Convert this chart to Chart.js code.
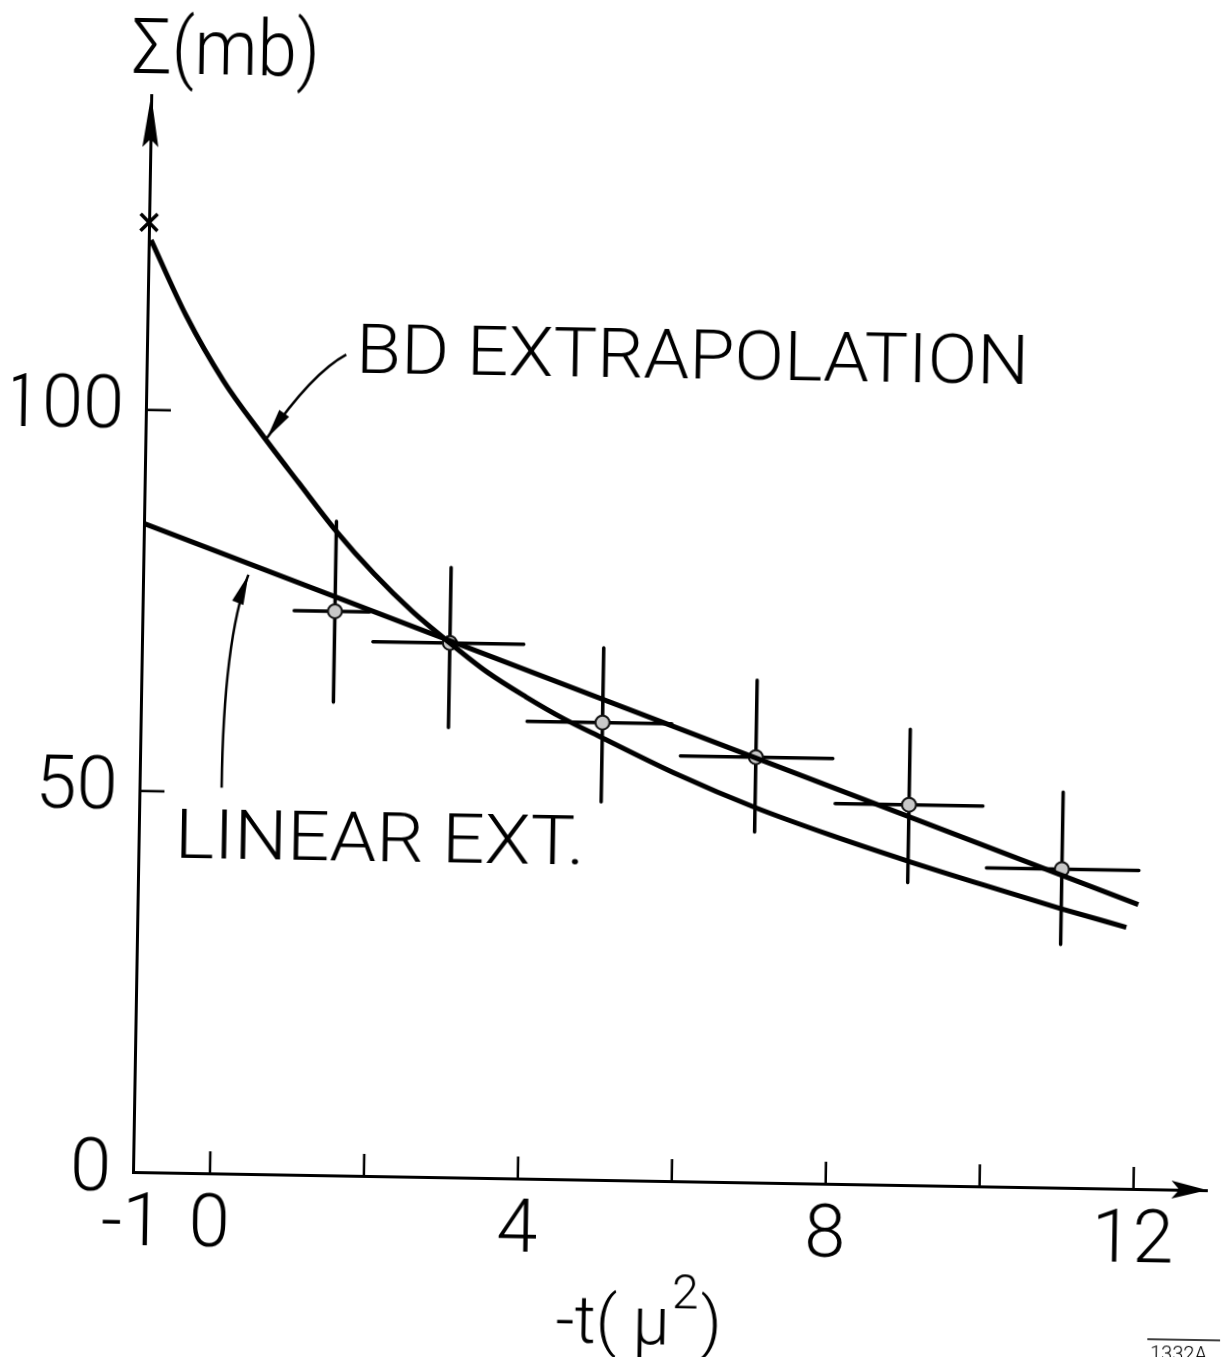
<!DOCTYPE html>
<html>
<head>
<meta charset="utf-8">
<script src="https://cdn.jsdelivr.net/npm/chart.js@4.4.1/dist/chart.umd.min.js"></script>
<style>
  html, body { margin: 0; padding: 0; background: #fff; overflow: hidden; }
  #wrap {
    position: absolute; left: 0; top: 0; width: 1223px; height: 1357px;
    transform: rotate(0.97deg); transform-origin: 133px 1172px;
  }
</style>
</head>
<body>
<div id="wrap"><canvas id="chart" width="1223" height="1357"></canvas></div>
<script>
// BD extrapolation curve
const bdX = [-0.97, -0.5, 0, 0.5, 1, 1.5, 2, 2.5, 3, 3.5, 4, 4.5, 5, 6, 7, 8, 9, 10, 11, 11.85];
const bdY = [122.3, 112.5, 104, 97.2, 90.8, 84.5, 79, 74.2, 70.1, 66.3, 63.2, 60.4, 58, 53.3, 49.2, 45.7, 42.5, 39.5, 36.6, 34.3];

// linear extrapolation
const linX = [-1, 12];
const linY = [85.1, 37.3];

// measured points with error bars
const ptX = [1.5, 3, 5, 7, 9, 11];
const ptY = [74, 70.1, 60, 55.8, 49.9, 41.8];
const errLo = [62.1, 59, 49.6, 46, 39.7, 31.9];
const errHi = [85.8, 80, 69.8, 65.9, 59.8, 51.9];
const binLo = [0.97, 2, 4.02, 6.02, 8.04, 10.02];
const binHi = [1.95, 3.96, 5.9, 8, 9.96, 12];

// extrapolated value at t = -1
const xMarkX = [-1];
const xMarkY = [124.6];

// axes
const xTickLabels = [-1, 0, 4, 8, 12];
const xTickMarks = [0, 2, 4, 6, 8, 10, 12];
const yTickLabels = [0, 50, 100];
const yTickMarks = [50, 100];

const FONT = 'Roboto, "DejaVu Sans", sans-serif';

const toPts = (xs, ys) => xs.map((x, i) => ({ x: x, y: ys[i] }));

function fitText(ctx, text, x, y, size, width) {
    ctx.save();
    ctx.font = `300 ${size}px ${FONT}`;
    const w = ctx.measureText(text).width;
    ctx.translate(x, y);
    if (width) ctx.scale(width / w, 1);
    ctx.fillText(text, 0, 0);
    ctx.restore();
}

function curvedArrow(ctx, xs, ys, p0, c, p1) {
    const a = { x: xs.getPixelForValue(p0[0]), y: ys.getPixelForValue(p0[1]) };
    const m = { x: xs.getPixelForValue(c[0]), y: ys.getPixelForValue(c[1]) };
    const b = { x: xs.getPixelForValue(p1[0]), y: ys.getPixelForValue(p1[1]) };
    ctx.beginPath();
    ctx.moveTo(a.x, a.y);
    ctx.quadraticCurveTo(m.x, m.y, b.x, b.y);
    ctx.stroke();
    const ang = Math.atan2(b.y - m.y, b.x - m.x);
    const len = 30, half = 6;
    ctx.beginPath();
    ctx.moveTo(b.x, b.y);
    ctx.lineTo(b.x - len * Math.cos(ang) + half * Math.sin(ang), b.y - len * Math.sin(ang) - half * Math.cos(ang));
    ctx.lineTo(b.x - len * Math.cos(ang) - half * Math.sin(ang), b.y - len * Math.sin(ang) + half * Math.cos(ang));
    ctx.closePath();
    ctx.fill();
}

const errorBars = {
    id: 'errorBars',
    beforeDatasetsDraw(chart) {
        const { ctx, scales: { x, y } } = chart;
        ctx.save();
        ctx.strokeStyle = '#000';
        ctx.lineWidth = 3.5;
        ctx.lineCap = 'round';
        ptX.forEach((px, i) => {
            ctx.beginPath();
            ctx.moveTo(x.getPixelForValue(px), y.getPixelForValue(errLo[i]));
            ctx.lineTo(x.getPixelForValue(px), y.getPixelForValue(errHi[i]));
            ctx.moveTo(x.getPixelForValue(binLo[i]), y.getPixelForValue(ptY[i]));
            ctx.lineTo(x.getPixelForValue(binHi[i]), y.getPixelForValue(ptY[i]));
            ctx.stroke();
        });
        ctx.restore();
    }
};

const decorations = {
    id: 'decorations',
    afterDraw(chart) {
        const { ctx, chartArea: area, scales: { x, y } } = chart;
        ctx.save();
        ctx.strokeStyle = '#000';
        ctx.fillStyle = '#000';

        // inward tick marks
        ctx.lineWidth = 2.5;
        yTickMarks.forEach(v => {
            const py = y.getPixelForValue(v);
            ctx.beginPath();
            ctx.moveTo(area.left, py);
            ctx.lineTo(area.left + 25, py);
            ctx.stroke();
        });
        xTickMarks.forEach(v => {
            const px = x.getPixelForValue(v);
            ctx.beginPath();
            ctx.moveTo(px, area.bottom);
            ctx.lineTo(px, area.bottom - 22);
            ctx.stroke();
        });

        // axis arrowheads
        ctx.beginPath();
        ctx.moveTo(area.left, area.top);
        ctx.lineTo(area.left - 8, area.top + 52);
        ctx.lineTo(area.left, area.top + 44);
        ctx.lineTo(area.left + 8, area.top + 52);
        ctx.closePath();
        ctx.fill();
        ctx.beginPath();
        ctx.moveTo(area.right, area.bottom);
        ctx.lineTo(area.right - 36, area.bottom - 9);
        ctx.lineTo(area.right - 28, area.bottom);
        ctx.lineTo(area.right - 36, area.bottom + 9);
        ctx.closePath();
        ctx.fill();

        // axis titles
        ctx.textBaseline = 'alphabetic';
        fitText(ctx, '\u03a3(mb)', area.left - 20, 73, 77, 188);
        const tx = 558, ty = area.bottom + 163;
        ctx.font = `300 66px ${FONT}`;
        ctx.fillText('-t( \u03bc', tx, ty);
        let w = ctx.measureText('-t( \u03bc').width;
        ctx.font = `300 48px ${FONT}`;
        ctx.fillText('2', tx + w + 2, ty - 36);
        w += ctx.measureText('2').width + 4;
        ctx.font = `300 66px ${FONT}`;
        ctx.fillText(')', tx + w, ty);

        // curve labels
        fitText(ctx, 'BD EXTRAPOLATION', x.getPixelForValue(1.72), y.getPixelForValue(105.4), 69, 673);
        fitText(ctx, 'LINEAR EXT.', x.getPixelForValue(-0.53), y.getPixelForValue(41.3), 69, 410);

        // arrows pointing at the curves
        ctx.lineWidth = 2.5;
        curvedArrow(ctx, x, y, [1.59, 107.7], [1.155, 105.25], [0.58, 96.6]);
        curvedArrow(ctx, x, y, [0.067, 50.6], [0.06, 70], [0.368, 78.6]);

        // figure number
        ctx.lineWidth = 1.5;
        ctx.beginPath();
        ctx.moveTo(1150, 1322);
        ctx.lineTo(1225, 1322);
        ctx.stroke();
        ctx.font = `300 20px ${FONT}`;
        ctx.fillText('1332A', 1153, 1343);
        ctx.restore();
    }
};

const ctx = document.getElementById('chart').getContext('2d');
new Chart(ctx, {
    type: 'scatter',
    data: {
        datasets: [
            {
                label: 'BD extrapolation',
                data: toPts(bdX, bdY),
                showLine: true,
                borderColor: '#000',
                borderWidth: 5,
                pointRadius: 0,
                cubicInterpolationMode: 'monotone',
                clip: false
            },
            {
                label: 'Linear ext.',
                data: toPts(linX, linY),
                showLine: true,
                borderColor: '#000',
                borderWidth: 5,
                pointRadius: 0,
                clip: false
            },
            {
                label: 'Data',
                data: toPts(ptX, ptY),
                pointRadius: 7,
                pointBackgroundColor: '#c8c8c8',
                pointBorderColor: '#111',
                pointBorderWidth: 2,
                clip: false
            },
            {
                label: 'Extrapolated',
                data: toPts(xMarkX, xMarkY),
                pointStyle: 'crossRot',
                pointRadius: 12,
                pointBorderColor: '#000',
                pointBorderWidth: 3.5,
                clip: false
            }
        ]
    },
    options: {
        responsive: false,
        animation: false,
        layout: { padding: { top: 95, right: 13, bottom: 0, left: 0 } },
        plugins: {
            legend: { display: false },
            tooltip: { enabled: false }
        },
        scales: {
            x: {
                type: 'linear',
                min: -1,
                max: 12.96,
                grid: { display: false },
                border: { display: true, color: '#000', width: 3 },
                afterBuildTicks: scale => { scale.ticks = xTickLabels.map(v => ({ value: v })); },
                afterFit: scale => { scale.height = 185; },
                ticks: {
                    color: '#000',
                    padding: 2,
                    maxRotation: 0,
                    autoSkip: false,
                    font: { family: FONT, size: 74, weight: '300' }
                }
            },
            y: {
                type: 'linear',
                min: 0,
                max: 141.3,
                grid: { display: false },
                border: { display: true, color: '#000', width: 3 },
                afterBuildTicks: scale => { scale.ticks = yTickLabels.map(v => ({ value: v })); },
                afterFit: scale => { scale.width = 133; },
                ticks: {
                    color: '#000',
                    padding: 14,
                    font: { family: FONT, size: 74, weight: '300' }
                }
            }
        }
    },
    plugins: [errorBars, decorations]
});
</script>
</body>
</html>
